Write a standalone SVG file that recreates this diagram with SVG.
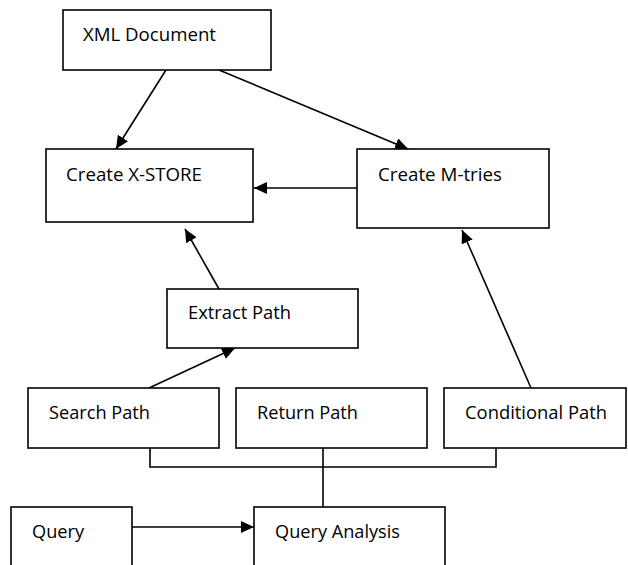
<svg xmlns="http://www.w3.org/2000/svg" width="628" height="565" viewBox="0 0 628 565">
<style>
.box{fill:#fff;stroke:#000;stroke-width:1.6}
.lbl{font-family:"Open Sans","Liberation Sans",sans-serif;font-size:18.5px;fill:#000}
.ln{fill:none;stroke:#000;stroke-width:1.6}
.arr{marker-end:url(#ah)}
</style>
<defs>
<marker id="ah" markerUnits="userSpaceOnUse" markerWidth="14" markerHeight="13" refX="13" refY="6" orient="auto">
<path d="M0,0 L13,6 L0,12 z" fill="#000"/>
</marker>
</defs>
<rect width="628" height="565" fill="#fff"/>
<g id="connectors">
<line class="ln arr" x1="166" y1="70" x2="116" y2="149"/>
<line class="ln arr" x1="219" y1="70" x2="408" y2="149"/>
<line class="ln arr" x1="357" y1="188" x2="254" y2="188"/>
<line class="ln arr" x1="219" y1="289" x2="185" y2="229"/>
<line class="ln arr" x1="149" y1="388" x2="235" y2="348"/>
<line class="ln arr" x1="531" y1="388" x2="462" y2="230"/>
<polyline class="ln" points="150,448 150,467 496,467 496,448"/>
<line class="ln" x1="323" y1="448" x2="323" y2="507"/>
<line class="ln arr" x1="132" y1="527" x2="254" y2="527"/>
</g>
<g id="xml-document"><rect class="box" x="63" y="10" width="208" height="60"/><text class="lbl" x="83" y="41" textLength="133" lengthAdjust="spacingAndGlyphs">XML Document</text></g>
<g id="create-xstore"><rect class="box" x="46" y="149" width="207" height="73"/><text class="lbl" x="66" y="181" textLength="136" lengthAdjust="spacingAndGlyphs">Create X-STORE</text></g>
<g id="create-mtries"><rect class="box" x="357" y="149" width="192" height="79"/><text class="lbl" x="378" y="181" textLength="124" lengthAdjust="spacingAndGlyphs">Create M-tries</text></g>
<g id="extract-path"><rect class="box" x="167" y="289" width="191" height="59"/><text class="lbl" x="188" y="319" textLength="103" lengthAdjust="spacingAndGlyphs">Extract Path</text></g>
<g id="search-path"><rect class="box" x="28" y="388" width="191" height="60"/><text class="lbl" x="49" y="419" textLength="101" lengthAdjust="spacingAndGlyphs">Search Path</text></g>
<g id="return-path"><rect class="box" x="236" y="388" width="191" height="60"/><text class="lbl" x="257" y="419" textLength="101" lengthAdjust="spacingAndGlyphs">Return Path</text></g>
<g id="conditional-path"><rect class="box" x="444" y="388" width="182" height="60"/><text class="lbl" x="465" y="419" textLength="142" lengthAdjust="spacingAndGlyphs">Conditional Path</text></g>
<g id="query"><rect class="box" x="11" y="507" width="121" height="70"/><text class="lbl" x="32" y="538" textLength="52" lengthAdjust="spacingAndGlyphs">Query</text></g>
<g id="query-analysis"><rect class="box" x="254" y="507" width="191" height="70"/><text class="lbl" x="275" y="538" textLength="125" lengthAdjust="spacingAndGlyphs">Query Analysis</text></g>
</svg>
